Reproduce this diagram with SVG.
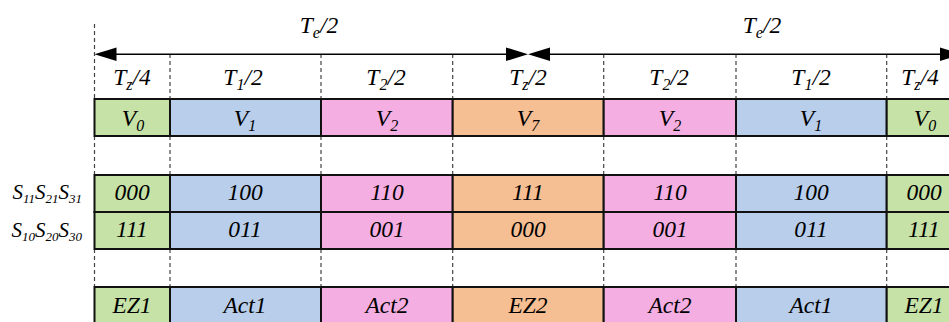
<svg xmlns="http://www.w3.org/2000/svg" width="949" height="322" viewBox="0 0 949 322">
  <defs>
    <style>
      text { font-family: "Liberation Serif", "Times New Roman", serif; font-style: italic; font-size: 23.5px; fill: #000; }
      .c { text-anchor: middle; }
      .lbl { text-anchor: end; font-size: 21px; }
      .sub { font-size: 16px; }
      .lbl .sub { font-size: 13px; }
      .cell { stroke: #111; stroke-width: 2; }
      .g { fill: #C6E2A6; }
      .b { fill: #B8CEEB; }
      .p { fill: #F5AEE2; }
      .o { fill: #F6BE93; }
      .dash { stroke: #444; stroke-width: 1.2; stroke-dasharray: 4 3; fill: none; }
      .axis { stroke: #000; stroke-width: 1.5; fill: none; }
      .head { fill: #000; stroke: none; }
    </style>
  </defs>

  <!-- dashed sector boundaries -->
  <g id="guides">
    <path class="dash" d="M94.5 24V99 M94.5 136V175 M94.5 249V287"/>
    <path class="dash" d="M170 54V99 M170 136V175 M170 249V287"/>
    <path class="dash" d="M321 54V99 M321 136V175 M321 249V287"/>
    <path class="dash" d="M452.7 54V99 M452.7 136V175 M452.7 249V287"/>
    <path class="dash" d="M603.7 54V99 M603.7 136V175 M603.7 249V287"/>
    <path class="dash" d="M736 54V99 M736 136V175 M736 249V287"/>
    <path class="dash" d="M886.7 54V99 M886.7 136V175 M886.7 249V287"/>
  </g>

  <!-- half-period arrows -->
  <g id="connectors">
    <path class="axis" d="M110 54.3H510 M546 54.3H949"/>
    <polygon class="head" points="94.5,54.3 116.5,47.5 116.5,61"/>
    <polygon class="head" points="528,54.3 506,47.5 506,61"/>
    <polygon class="head" points="528,54.3 550,47.5 550,61"/>
    <polygon class="head" points="962,54.3 940,47.5 940,61"/>
  </g>

  <g id="period-labels">
    <text class="c" x="319" y="33">T<tspan class="sub" dy="5">e</tspan><tspan dy="-5">/2</tspan></text>
    <text class="c" x="762" y="33">T<tspan class="sub" dy="5">e</tspan><tspan dy="-5">/2</tspan></text>
  </g>

  <!-- duration header -->
  <g id="durations">
    <text class="c" x="132" y="85">T<tspan class="sub" dy="5">z</tspan><tspan dy="-5">/4</tspan></text>
    <text class="c" x="243" y="85">T<tspan class="sub" dy="5">1</tspan><tspan dy="-5">/2</tspan></text>
    <text class="c" x="386" y="85">T<tspan class="sub" dy="5">2</tspan><tspan dy="-5">/2</tspan></text>
    <text class="c" x="528" y="85">T<tspan class="sub" dy="5">z</tspan><tspan dy="-5">/2</tspan></text>
    <text class="c" x="669" y="85">T<tspan class="sub" dy="5">2</tspan><tspan dy="-5">/2</tspan></text>
    <text class="c" x="811" y="85">T<tspan class="sub" dy="5">1</tspan><tspan dy="-5">/2</tspan></text>
    <text class="c" x="920" y="85">T<tspan class="sub" dy="5">z</tspan><tspan dy="-5">/4</tspan></text>
  </g>

  <!-- switching-state row labels -->
  <g id="row-labels">
    <text class="lbl" x="82" y="199">S<tspan class="sub" dy="4">11</tspan><tspan dy="-4">S</tspan><tspan class="sub" dy="4">21</tspan><tspan dy="-4">S</tspan><tspan class="sub" dy="4">31</tspan></text>
    <text class="lbl" x="82" y="237">S<tspan class="sub" dy="4">10</tspan><tspan dy="-4">S</tspan><tspan class="sub" dy="4">20</tspan><tspan dy="-4">S</tspan><tspan class="sub" dy="4">30</tspan></text>
  </g>

  <!-- voltage vectors -->
  <g id="vectors">
    <g id="vec-0"><rect class="cell g" x="94.5" y="99" width="75.5" height="37"/><text class="c" x="133" y="126">V<tspan class="sub" dy="5">0</tspan></text></g>
    <g id="vec-1"><rect class="cell b" x="170" y="99" width="151" height="37"/><text class="c" x="245" y="126">V<tspan class="sub" dy="5">1</tspan></text></g>
    <g id="vec-2"><rect class="cell p" x="321" y="99" width="131.7" height="37"/><text class="c" x="387" y="126">V<tspan class="sub" dy="5">2</tspan></text></g>
    <g id="vec-3"><rect class="cell o" x="452.7" y="99" width="151" height="37"/><text class="c" x="528" y="126">V<tspan class="sub" dy="5">7</tspan></text></g>
    <g id="vec-4"><rect class="cell p" x="603.7" y="99" width="132.3" height="37"/><text class="c" x="670" y="126">V<tspan class="sub" dy="5">2</tspan></text></g>
    <g id="vec-5"><rect class="cell b" x="736" y="99" width="150.7" height="37"/><text class="c" x="811" y="126">V<tspan class="sub" dy="5">1</tspan></text></g>
    <g id="vec-6"><rect class="cell g" x="886.7" y="99" width="75.5" height="37"/><text class="c" x="925" y="126">V<tspan class="sub" dy="5">0</tspan></text></g>
  </g>

  <!-- upper switch states -->
  <g id="upper">
    <g id="up-0"><rect class="cell g" x="94.5" y="175" width="75.5" height="37"/><text class="c" x="132" y="200">000</text></g>
    <g id="up-1"><rect class="cell b" x="170" y="175" width="151" height="37"/><text class="c" x="245" y="200">100</text></g>
    <g id="up-2"><rect class="cell p" x="321" y="175" width="131.7" height="37"/><text class="c" x="387" y="200">110</text></g>
    <g id="up-3"><rect class="cell o" x="452.7" y="175" width="151" height="37"/><text class="c" x="528" y="200">111</text></g>
    <g id="up-4"><rect class="cell p" x="603.7" y="175" width="132.3" height="37"/><text class="c" x="670" y="200">110</text></g>
    <g id="up-5"><rect class="cell b" x="736" y="175" width="150.7" height="37"/><text class="c" x="811" y="200">100</text></g>
    <g id="up-6"><rect class="cell g" x="886.7" y="175" width="75.5" height="37"/><text class="c" x="924" y="200">000</text></g>
  </g>

  <!-- lower switch states -->
  <g id="lower">
    <g id="lo-0"><rect class="cell g" x="94.5" y="212" width="75.5" height="37"/><text class="c" x="132" y="237">111</text></g>
    <g id="lo-1"><rect class="cell b" x="170" y="212" width="151" height="37"/><text class="c" x="245" y="237">011</text></g>
    <g id="lo-2"><rect class="cell p" x="321" y="212" width="131.7" height="37"/><text class="c" x="387" y="237">001</text></g>
    <g id="lo-3"><rect class="cell o" x="452.7" y="212" width="151" height="37"/><text class="c" x="528" y="237">000</text></g>
    <g id="lo-4"><rect class="cell p" x="603.7" y="212" width="132.3" height="37"/><text class="c" x="670" y="237">001</text></g>
    <g id="lo-5"><rect class="cell b" x="736" y="212" width="150.7" height="37"/><text class="c" x="811" y="237">011</text></g>
    <g id="lo-6"><rect class="cell g" x="886.7" y="212" width="75.5" height="37"/><text class="c" x="924" y="237">111</text></g>
  </g>

  <!-- operating modes -->
  <g id="modes">
    <g id="mode-0"><rect class="cell g" x="94.5" y="287" width="75.5" height="40"/><text class="c" x="132" y="313">EZ1</text></g>
    <g id="mode-1"><rect class="cell b" x="170" y="287" width="151" height="40"/><text class="c" x="245" y="313">Act1</text></g>
    <g id="mode-2"><rect class="cell p" x="321" y="287" width="131.7" height="40"/><text class="c" x="387" y="313">Act2</text></g>
    <g id="mode-3"><rect class="cell o" x="452.7" y="287" width="151" height="40"/><text class="c" x="528" y="313">EZ2</text></g>
    <g id="mode-4"><rect class="cell p" x="603.7" y="287" width="132.3" height="40"/><text class="c" x="670" y="313">Act2</text></g>
    <g id="mode-5"><rect class="cell b" x="736" y="287" width="150.7" height="40"/><text class="c" x="811" y="313">Act1</text></g>
    <g id="mode-6"><rect class="cell g" x="886.7" y="287" width="75.5" height="40"/><text class="c" x="924" y="313">EZ1</text></g>
  </g>
</svg>
